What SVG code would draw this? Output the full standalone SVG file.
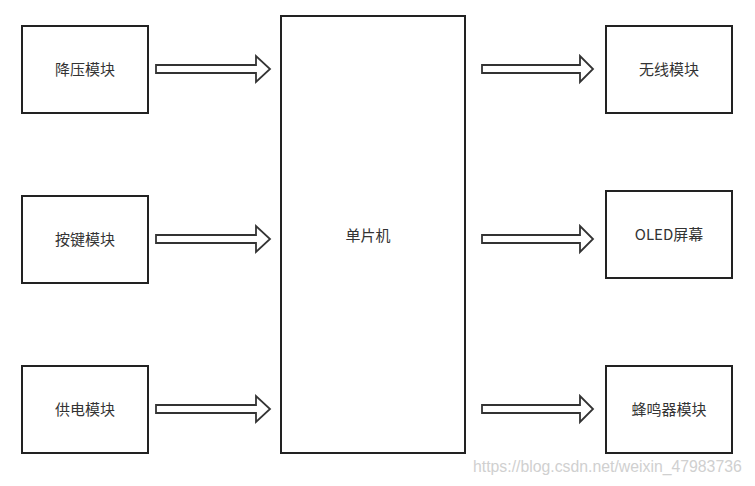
<svg xmlns="http://www.w3.org/2000/svg" width="755" height="486" viewBox="0 0 755 486">
<defs>
<style>
.box{fill:#fff;stroke:#222;stroke-width:2}
.t{font-family:"Noto Sans CJK SC","Liberation Sans",sans-serif;font-size:15px;fill:#333;text-anchor:middle;dominant-baseline:central}
.arr{fill:#fff;stroke:#333;stroke-width:1.8;stroke-linejoin:miter}
.wm{font-family:"Liberation Sans",sans-serif;font-size:15.8px;fill:#d0d0d0}
</style>
<path id="a" d="M0,-4 L100,-4 L100,-13 L114,0 L100,13 L100,4 L0,4 Z"/>
<path id="b" d="M0,-4 L98,-4 L98,-13 L111,0 L98,13 L98,4 L0,4 Z"/>
</defs>
<rect width="755" height="486" fill="#fff"/>
<g id="n1"><rect class="box" x="22" y="26" width="126" height="87"/><text class="t" x="85" y="68">降压模块</text></g>
<g id="n2"><rect class="box" x="22" y="196" width="126" height="87"/><text class="t" x="85" y="238">按键模块</text></g>
<g id="n3"><rect class="box" x="22" y="366" width="126" height="87"/><text class="t" x="85" y="408">供电模块</text></g>
<g id="mcu"><rect class="box" x="281" y="16" width="184" height="437"/><text class="t" x="368" y="234">单片机</text></g>
<g id="n4"><rect class="box" x="606" y="26" width="126" height="87"/><text class="t" x="669" y="68">无线模块</text></g>
<g id="n5"><rect class="box" x="606" y="191" width="126" height="87"/><text class="t" x="669" y="233">OLED屏幕</text></g>
<g id="n6"><rect class="box" x="606" y="366" width="126" height="87"/><text class="t" x="669" y="408">蜂鸣器模块</text></g>
<g id="connectors">
<use href="#a" class="arr" transform="translate(156,69)"/>
<use href="#a" class="arr" transform="translate(156,239)"/>
<use href="#a" class="arr" transform="translate(156,409)"/>
<use href="#b" class="arr" transform="translate(482,69)"/>
<use href="#b" class="arr" transform="translate(482,239)"/>
<use href="#b" class="arr" transform="translate(482,409)"/>
</g>
<text class="wm" x="473" y="472">https://blog.csdn.net/weixin_47983736</text>
</svg>
